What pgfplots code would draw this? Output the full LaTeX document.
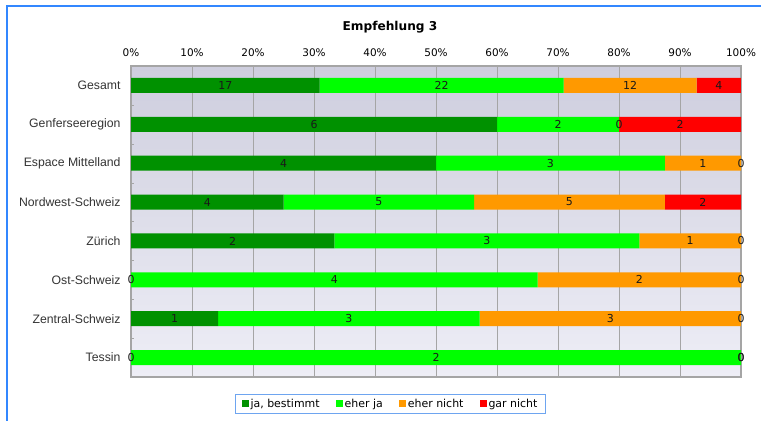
\documentclass[border=0pt]{standalone}
\usepackage{fontspec}
\setmainfont{DejaVu Sans}
\newfontfamily\catfont{Liberation Sans}
\usepackage{pgfplots}
\usepackage{pgfplotstable}
\pgfplotsset{compat=1.18}

\definecolor{jabest}{RGB}{0,145,0}
\definecolor{eherja}{RGB}{0,255,0}
\definecolor{ehernicht}{RGB}{255,153,0}
\definecolor{garnicht}{RGB}{255,0,0}
\definecolor{bgtop}{RGB}{206,206,222}
\definecolor{bgbot}{RGB}{238,238,246}
\definecolor{gridgray}{RGB}{165,165,165}
\definecolor{frameblue}{RGB}{50,135,255}
\definecolor{legblue}{RGB}{110,165,240}

% counts per region (answers), total = number of answers
\pgfplotstableread{
cat total ja eherja ehernicht garnicht
0 55 17 22 12 4
1 10 6 2 0 2
2 8 4 3 1 0
3 16 4 5 5 2
4 6 2 3 1 0
5 6 0 4 2 0
6 7 1 3 3 0
7 2 0 2 0 0
}\counts

\pgfplotsset{
  /pgf/number format/assume math mode=true,
  frame/.style={
    at={(131bp,-66bp)}, anchor=north west,
    width=610bp, height=311bp, scale only axis,
    xmin=0, xmax=100, ymin=-0.5, ymax=7.5, y dir=reverse,
  },
  lbl/.style={only marks, mark=none, nodes near coords, point meta=explicit,
    every node near coord/.style={anchor=center,
      font=\fontsize{11}{12}\selectfont, text=black!90, inner sep=0pt}},
}

\begin{document}
\begin{tikzpicture}
\useasboundingbox (0,0) rectangle (761bp,-421bp);
\draw[frameblue, line width=2bp] (7bp,-421bp) -- (7bp,-6bp) -- (761bp,-6bp);
\node[font=\bfseries\fontsize{12.2}{14}\selectfont] at (390bp,-27bp) {Empfehlung 3};
\begin{axis}[
  frame,
  xbar stacked, bar width=15bp,
  axis background/.style={top color=bgtop, bottom color=bgbot},
  axis line style={gridgray, line width=1.3bp},
  xtick={0,10,...,100},
  xticklabels={0\%,10\%,20\%,30\%,40\%,50\%,60\%,70\%,80\%,90\%,100\%},
  xticklabel pos=upper,
  xticklabel style={font=\fontsize{10.5}{12}\selectfont, yshift=5.5bp},
  xmajorgrids, grid style={gridgray, line width=1bp},
  ytick={0,...,7},
  yticklabels={Gesamt,Genferseeregion,Espace Mittelland,Nordwest-Schweiz,Z\"urich,Ost-Schweiz,Zentral-Schweiz,Tessin},
  yticklabel style={font=\catfont\fontsize{12.3}{14}\selectfont, text=black!80, xshift=-7bp},
  minor ytick={0.5,1.5,...,6.5},
  major tick length=0pt, minor tick length=3bp,
  tick align=inside, ytick pos=left,
  minor tick style={gridgray},
  legend columns=4,
  legend image code/.code={\fill[#1] (0bp,-3.5bp) rectangle (7bp,3.5bp);},
  legend style={at={(0.4254,-0.0868)}, anchor=center, draw=legblue, line width=1bp,
    font=\fontsize{11}{12}\selectfont, inner xsep=6bp, inner ysep=3bp,
    /tikz/column sep=0pt,
    /tikz/every even column/.append style={column sep=14bp},
    nodes={inner xsep=2bp}},
]
\addplot[fill=jabest, draw=none] table[y=cat, x expr=\thisrow{ja}/\thisrow{total}*100] {\counts};
\addlegendentry{ja, bestimmt}
\addplot[fill=eherja, draw=none] table[y=cat, x expr=\thisrow{eherja}/\thisrow{total}*100] {\counts};
\addlegendentry{eher ja}
\addplot[fill=ehernicht, draw=none] table[y=cat, x expr=\thisrow{ehernicht}/\thisrow{total}*100] {\counts};
\addlegendentry{eher nicht}
\addplot[fill=garnicht, draw=none] table[y=cat, x expr=\thisrow{garnicht}/\thisrow{total}*100] {\counts};
\addlegendentry{gar nicht}
\end{axis}
% value labels, centred in each segment
\begin{axis}[frame, hide axis, clip=false]
\addplot[lbl] table[y=cat, meta=ja,
  x expr={(\thisrow{ja}/2)/\thisrow{total}*100}] {\counts};
\addplot[lbl] table[y=cat, meta=eherja,
  x expr={(\thisrow{ja}+\thisrow{eherja}/2)/\thisrow{total}*100}] {\counts};
\addplot[lbl] table[y=cat, meta=ehernicht,
  x expr={(\thisrow{ja}+\thisrow{eherja}+\thisrow{ehernicht}/2)/\thisrow{total}*100}] {\counts};
\addplot[lbl] table[y=cat, meta=garnicht,
  x expr={(\thisrow{ja}+\thisrow{eherja}+\thisrow{ehernicht}+\thisrow{garnicht}/2)/\thisrow{total}*100}] {\counts};
\end{axis}
\end{tikzpicture}
\end{document}
